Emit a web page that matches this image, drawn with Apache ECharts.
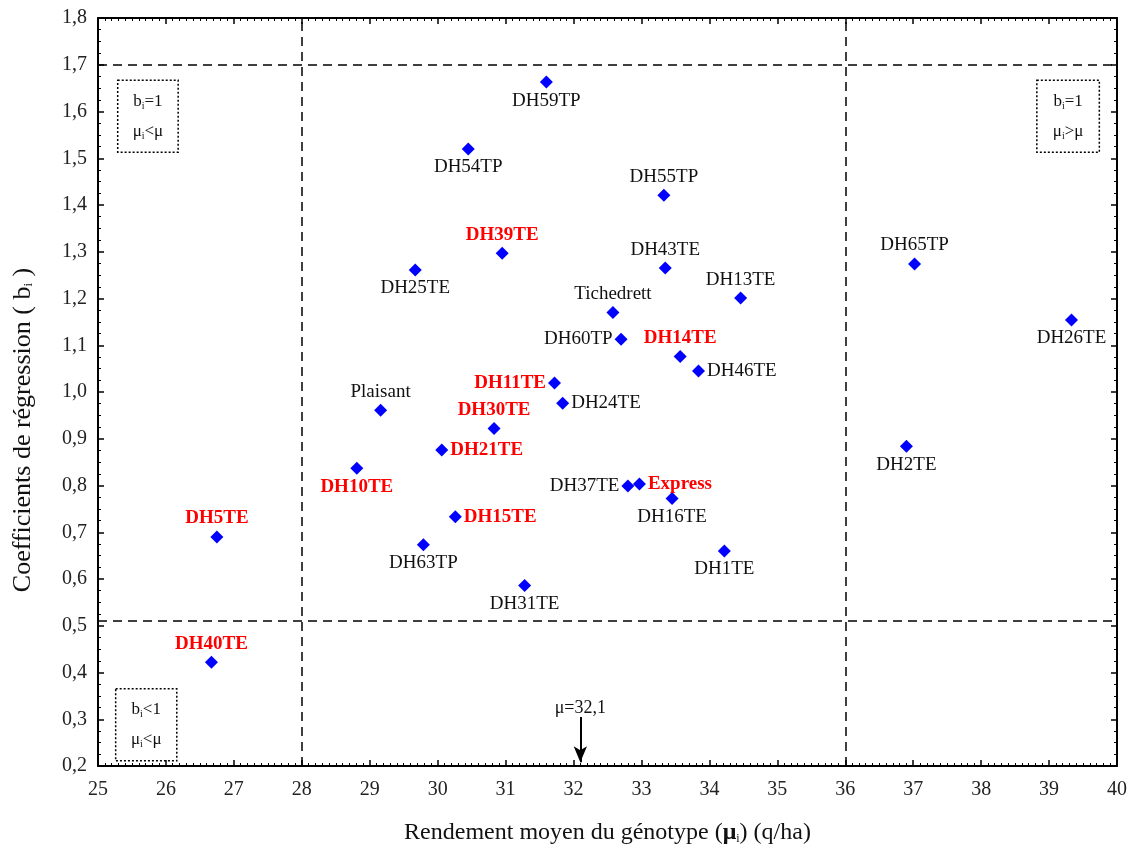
<!DOCTYPE html>
<html>
<head>
<meta charset="utf-8">
<script src="https://cdn.jsdelivr.net/npm/echarts@6/dist/echarts.min.js"></script>
<style>
  html, body { margin: 0; padding: 0; background: #fff; }
  #chart { width: 1130px; height: 852px; }
</style>
</head>
<body>
<div id="chart"></div>
<script>
// genotypes : rendement moyen (q/ha) et coefficient de regression
const genotypes = ['DH59TP', 'DH54TP', 'DH55TP', 'DH39TE', 'DH43TE', 'DH25TE', 'Tichedrett', 'DH13TE',
  'DH60TP', 'DH14TE', 'DH46TE', 'DH11TE', 'DH24TE', 'Plaisant', 'DH30TE', 'DH21TE', 'DH10TE',
  'DH37TE', 'Express', 'DH16TE', 'DH15TE', 'DH63TP', 'DH1TE', 'DH31TE', 'DH5TE', 'DH40TE',
  'DH65TP', 'DH26TE', 'DH2TE']
const rendement = [31.60, 30.45, 33.33, 30.95, 33.35, 29.67, 32.58, 34.46,
  32.70, 33.57, 33.84, 31.72, 31.84, 29.16, 30.83, 30.06, 28.81,
  32.80, 32.97, 33.45, 30.26, 29.79, 34.22, 31.28, 26.75, 26.67,
  37.02, 39.33, 36.90]
const coefReg = [1.663, 1.520, 1.421, 1.297, 1.265, 1.261, 1.170, 1.201,
  1.113, 1.076, 1.045, 1.019, 0.976, 0.961, 0.922, 0.876, 0.837,
  0.799, 0.803, 0.772, 0.733, 0.673, 0.660, 0.586, 0.690, 0.422,
  1.274, 1.154, 0.884]
// genotypes ecrits en rouge
const enRouge = ['DH39TE', 'DH14TE', 'DH11TE', 'DH30TE', 'DH21TE', 'DH10TE', 'Express', 'DH15TE', 'DH5TE', 'DH40TE']

const muMoyen = 32.1
const seuilsX = [28, 36]
const seuilsY = [1.7, 0.506]
const yTicks = [0.2, 0.3, 0.4, 0.5, 0.6, 0.7, 0.8, 0.9, 1.0, 1.1, 1.2, 1.3, 1.4, 1.5, 1.6, 1.7, 1.8]

// placement des etiquettes : [position, dx, dy]
const placement = {
  DH59TP: ['bottom', -1, -1], DH54TP: ['bottom', -7, -1], DH55TP: ['top', -1, 1], DH39TE: ['top', 7, 5],
  DH43TE: ['top', -1, 1], DH25TE: ['bottom', -17, 2], Tichedrett: ['top', -39, 3], DH13TE: ['top', 33, 5],
  DH60TP: ['left', 1, 0], DH14TE: ['top', 35, 1], DH46TE: ['right', 8, 2], DH11TE: ['left', 6, -11],
  DH24TE: ['right', 2, 6], Plaisant: ['top', -8, 5], DH30TE: ['top', -10, 2], DH21TE: ['right', 0, 7],
  DH10TE: ['bottom', 10, 1], DH37TE: ['left', -2, 0], Express: ['right', -3, -6], DH16TE: ['bottom', 16, 0],
  DH15TE: ['right', 4, 5], DH63TP: ['bottom', -12, -1], DH1TE: ['bottom', 2, 6], DH31TE: ['bottom', -5, 0],
  DH5TE: ['top', 0, 1], DH40TE: ['top', 0, 2], DH65TP: ['top', -2, 1], DH26TE: ['bottom', -11, 2],
  DH2TE: ['bottom', 3, -1]
}

const serif = '"Liberation Serif", "DejaVu Serif", serif'

const points = genotypes.map(function (g, i) {
  const p = placement[g] || ['top', 0, 0]
  const rouge = enRouge.indexOf(g) >= 0
  return {
    name: g,
    value: [rendement[i], coefReg[i]],
    label: {
      show: true,
      formatter: g,
      position: p[0],
      offset: [p[1], p[2]],
      distance: 2,
      fontFamily: serif,
      fontSize: 19,
      lineHeight: 20,
      fontWeight: rouge ? 'bold' : 'normal',
      color: rouge ? '#ff0000' : '#111'
    }
  }
})

const subRich = {
  t: { fontFamily: serif, fontSize: 17, color: '#111' },
  s: { fontFamily: serif, fontSize: 10, color: '#111', padding: [10, 0, 0, 0] }
}

function quadBox(x0, x1, y0, y1, txt) {
  return [{
    coord: [x0, y1],
    label: {
      show: true,
      position: 'inside',
      formatter: txt,
      lineHeight: 30,
      rich: subRich
    }
  }, { coord: [x1, y0] }]
}

const axisCommon = {
  axisLine: { onZero: false, lineStyle: { color: '#000', width: 2 } },
  axisTick: { inside: true, length: 6, lineStyle: { color: '#000', width: 1.5 } },
  splitLine: { show: false }
}

const chart = echarts.init(document.getElementById('chart'))
chart.setOption({
  backgroundColor: '#fff',
  animation: false,
  grid: { left: 98, right: 12, top: 18, bottom: 86 },
  xAxis: [Object.assign({
    type: 'value',
    min: 25,
    max: 40,
    interval: 1,
    name: 'Rendement moyen du génotype ({b|μ}{s|i}) (q/ha)',
    nameLocation: 'middle',
    nameGap: 55,
    nameTextStyle: {
      fontFamily: serif, fontSize: 24, color: '#111',
      rich: {
        b: { fontFamily: serif, fontSize: 24, fontWeight: 'bold', color: '#111' },
        s: { fontFamily: serif, fontSize: 12, color: '#111', padding: [12, 0, 0, 0] }
      }
    },
    minorTick: { show: true, splitNumber: 10, length: 3, lineStyle: { color: '#000' } },
    axisLabel: { fontFamily: serif, fontSize: 20, color: '#222', margin: 14 }
  }, axisCommon), Object.assign({
    type: 'value',
    position: 'top',
    min: 25,
    max: 40,
    interval: 1,
    minorTick: { show: true, splitNumber: 10, length: 3, lineStyle: { color: '#000' } },
    axisLabel: { show: false }
  }, axisCommon)],
  yAxis: [Object.assign({
    type: 'value',
    min: yTicks[0],
    max: yTicks[yTicks.length - 1],
    interval: 0.1,
    name: 'Coefficients de régression ( b{s|i} )',
    nameLocation: 'middle',
    nameGap: 62,
    nameTextStyle: {
      fontFamily: serif, fontSize: 26, color: '#111',
      padding: [0, 76, 0, 0],
      rich: { s: { fontFamily: serif, fontSize: 13, color: '#111', padding: [12, 0, 0, 0] } }
    },
    minorTick: { show: true, splitNumber: 4, length: 3, lineStyle: { color: '#000' } },
    axisLabel: {
      fontFamily: serif, fontSize: 20, color: '#222', margin: 11,
      formatter: function (v) { return v.toFixed(1).replace('.', ',') }
    }
  }, axisCommon), Object.assign({
    type: 'value',
    position: 'right',
    min: yTicks[0],
    max: yTicks[yTicks.length - 1],
    interval: 0.1,
    minorTick: { show: true, splitNumber: 4, length: 3, lineStyle: { color: '#000' } },
    axisLabel: { show: false }
  }, axisCommon)],
  series: [{
    type: 'scatter',
    symbol: 'diamond',
    symbolSize: 13,
    itemStyle: { color: '#0000ff', opacity: 1 },
    labelLayout: { hideOverlap: false },
    data: points
  }, {
    // lignes de separation, boites des quadrants et moyenne generale
    type: 'scatter',
    data: [],
    silent: true,
    markLine: {
      silent: true,
      symbol: 'none',
      animation: false,
      lineStyle: { color: '#000', type: [9, 6], width: 1.5, opacity: 1 },
      label: { show: false },
      data: seuilsX.map(function (v) { return { xAxis: v } })
        .concat(seuilsY.map(function (v) { return { yAxis: v } }))
        .concat([[{
          coord: [muMoyen, 0.305],
          symbol: 'none',
          lineStyle: { type: 'solid', width: 2 },
          label: {
            show: true, position: 'start', distance: 0,
            formatter: 'μ=' + String(muMoyen).replace('.', ','),
            fontFamily: serif, fontSize: 18, color: '#111'
          }
        }, {
          coord: [muMoyen, 0.208],
          symbol: 'arrow',
          symbolSize: [10, 16]
        }]])
    },
    markArea: {
      silent: true,
      itemStyle: { color: 'rgba(0,0,0,0)', borderColor: '#000', borderWidth: 1.5, borderType: [2, 2], opacity: 1 },
      data: [
        quadBox(25.29, 26.18, 1.513, 1.667, '{t|b}{s|i}{t|=1}\n{t|μ}{s|i}{t|<μ}'),
        quadBox(38.82, 39.74, 1.513, 1.667, '{t|b}{s|i}{t|=1}\n{t|μ}{s|i}{t|>μ}'),
        quadBox(25.26, 26.16, 0.211, 0.365, '{t|b}{s|i}{t|<1}\n{t|μ}{s|i}{t|<μ}')
      ]
    }
  }]
})
</script>
</body>
</html>
